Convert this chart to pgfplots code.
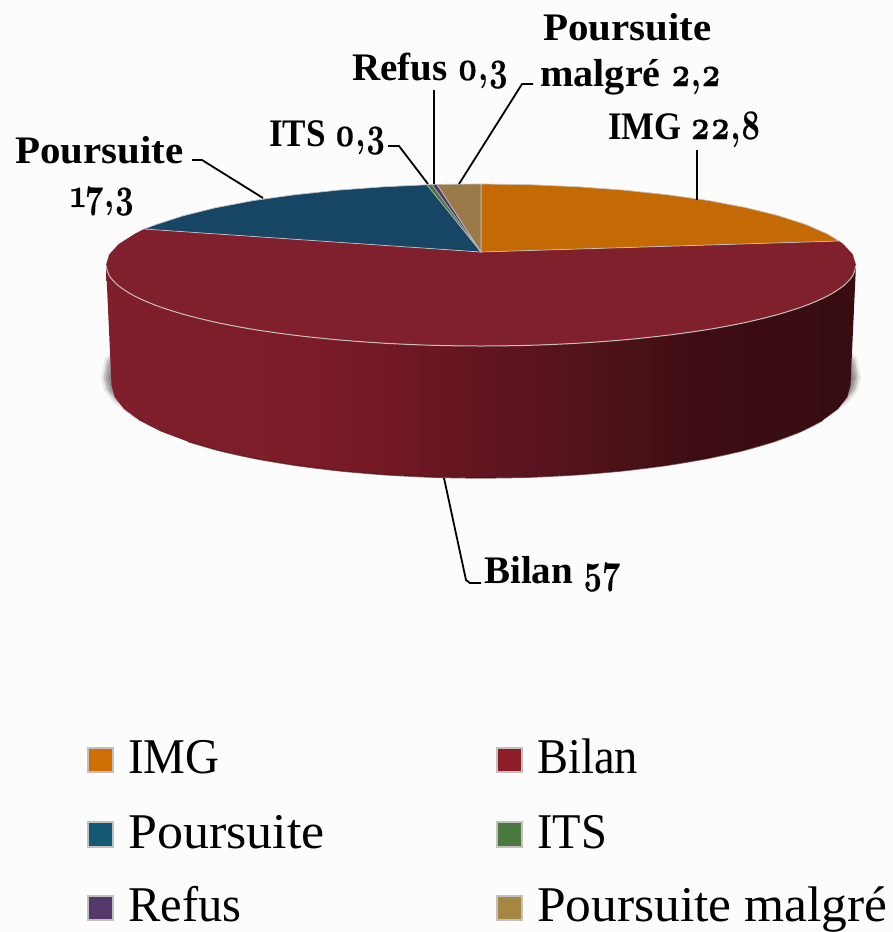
\documentclass[border=0pt]{standalone}
\usepackage{fontspec}
\setmainfont{Liberation Serif}
\newfontfamily\onum[Numbers=OldStyle,BoldFeatures={FakeBold=0.5}]{Latin Modern Roman}
\usepackage{pgfplots}
\pgfplotsset{compat=1.18}
\definecolor{bgc}{HTML}{FCFCFC}
\definecolor{cImg}{HTML}{C46A05}
\definecolor{cBilan}{HTML}{80202C}
\definecolor{cPours}{HTML}{164663}
\definecolor{cIts}{HTML}{4A7A3F}
\definecolor{cRefus}{HTML}{55396B}
\definecolor{cMalgre}{HTML}{9B7A4A}
\definecolor{rim}{HTML}{C4C0C0}
\definecolor{wa}{RGB}{127,31,43}
\definecolor{wb}{RGB}{124,28,40}
\definecolor{wc}{RGB}{111,24,35}
\definecolor{wd}{RGB}{98,21,32}
\definecolor{we}{RGB}{79,18,25}
\definecolor{wf}{RGB}{61,13,19}
\definecolor{wg}{RGB}{55,13,18}
\pgfdeclarehorizontalshading{wallshade}{100bp}{
  color(0bp)=(wa); color(25bp)=(wa); color(38bp)=(wb); color(44.6bp)=(wc);
  color(50bp)=(wd); color(58bp)=(we); color(64.6bp)=(wf); color(75bp)=(wg); color(100bp)=(wg)}
% old-style figures of the data labels
\newcommand{\dg}[1]{\scalebox{0.77}[1]{\onum\fontsize{42}{44}\selectfont\bfseries #1}}
% x, baseline, x scale of the letters, letters, figures
\newcommand{\lab}[5]{\node[anchor=base west, inner sep=0pt, font=\fontsize{39}{42}\selectfont\bfseries] at (axis cs:#1,#2) {\scalebox{#3}[1]{#4}\dg{#5}};}
\newcommand{\leg}[4]{\node[anchor=base west, inner sep=0pt, font=\fontsize{50}{54}\selectfont] at (axis cs:#1,#2) {\scalebox{#3}[1]{#4}};}
\begin{document}
\begin{tikzpicture}
\begin{axis}[
  scale only axis, width=893pt, height=932pt,
  xmin=0, xmax=893, ymin=0, ymax=932, y dir=reverse,
  hide axis,
]
% background
\addplot[fill=bgc, draw=none] coordinates {(0,0) (893,0) (893,932) (0,932)} --cycle;

% soft shadow, left then right
\addplot[fill=black, fill opacity=0.08, draw=none] coordinates {(115,348) (105,358) (101,378) (104,390) (114,403) (130,415) (154,426) (200,420) (130,380)} --cycle;
\addplot[fill=black, fill opacity=0.16, draw=none] coordinates {(115,352) (107,360) (103.5,378) (106.7,390) (116.4,402) (132.2,413.6) (154,424.5) (200,420) (130,380)} --cycle;
\addplot[fill=black, fill opacity=0.16, draw=none] coordinates {(115,356) (108.5,364) (106,378) (109.2,390) (118.8,402) (134.5,413.6) (156,424.5) (200,420) (130,380)} --cycle;
\addplot[fill=black, fill opacity=0.16, draw=none] coordinates {(115,360) (111,368) (108.5,378) (111.6,390) (121.2,402) (136.8,413.6) (158,424.5) (200,420) (130,380)} --cycle;
\addplot[fill=black, fill opacity=0.08, draw=none] coordinates {(847,348) (857,358) (861,378) (858,390) (848,403) (832,415) (808,426) (762,420) (832,380)} --cycle;
\addplot[fill=black, fill opacity=0.16, draw=none] coordinates {(847,352) (855,360) (858.5,378) (855.3,390) (845.6,402) (829.8,413.6) (808,424.5) (762,420) (832,380)} --cycle;
\addplot[fill=black, fill opacity=0.16, draw=none] coordinates {(847,356) (853.5,364) (856,378) (852.8,390) (843.2,402) (827.5,413.6) (806,424.5) (762,420) (832,380)} --cycle;
\addplot[fill=black, fill opacity=0.16, draw=none] coordinates {(847,360) (851,368) (853.5,378) (850.4,390) (840.8,402) (825.2,413.6) (804,424.5) (762,420) (832,380)} --cycle;

% wall of the cylinder
\addplot[shading=wallshade, draw=none] coordinates {
  (106,265) (109.2,275.6) (118.8,286) (134.5,296) (156.2,305.5) (183.5,314.3) (215.8,322.3)
  (252.7,329.3) (293.5,335.1) (337.5,339.8) (383.9,343.2) (432.1,345.3) (481,346)
  (529.9,345.3) (578.1,343.2) (624.5,339.8) (668.5,335.1) (709.3,329.3) (746.2,322.3)
  (778.5,314.3) (805.8,305.5) (827.5,296) (843.2,286) (852.8,275.6) (856,265)
  (850.5,385) (847.3,397.1) (837.9,409.1) (822.4,420.6) (801,431.5) (774.1,441.6) (742.3,450.8)
  (705.9,458.8) (665.8,465.5) (622.4,470.9) (576.6,474.8) (529.2,477.2) (481,478)
  (432.8,477.2) (385.4,474.8) (339.6,470.9) (296.2,465.5) (256.1,458.8) (219.7,450.8)
  (187.9,441.6) (161,431.5) (139.6,420.6) (124.1,409.1) (114.7,397.1) (111.5,385)
} --cycle;
% dark lower rim
\addplot[draw=black!75!red, opacity=0.6, line width=1.2pt, smooth] coordinates {
  (822.4,420.6) (801,431.5) (774.1,441.6) (742.3,450.8) (705.9,458.8) (665.8,465.5) (622.4,470.9)
  (576.6,474.8) (529.2,477.2) (481,478) (432.8,477.2) (385.4,474.8) (339.6,470.9) (296.2,465.5)
  (256.1,458.8) (219.7,450.8) (187.9,441.6)};

% top face
\addplot[fill=cBilan, draw=none] coordinates {
  (481,252) (839,241) (843.2,244) (852.8,254.4) (856,265) (852.8,275.6) (843.2,286) (827.5,296)
  (805.8,305.5) (778.5,314.3) (746.2,322.3) (709.3,329.3) (668.5,335.1) (624.5,339.8) (578.1,343.2)
  (529.9,345.3) (481,346) (432.1,345.3) (383.9,343.2) (337.5,339.8) (293.5,335.1) (252.7,329.3)
  (215.8,322.3) (183.5,314.3) (156.2,305.5) (134.5,296) (118.8,286) (109.2,275.6) (106,265)
  (109.2,254.4) (118.8,244) (134.5,234) (144,229)
} --cycle;
\addplot[fill=cImg, draw=rim, line width=0.7pt] coordinates {
  (481,252) (481,184) (529.9,184.7) (578.1,186.8) (624.5,190.2) (668.5,194.9) (709.3,200.7)
  (746.2,207.7) (778.5,215.7) (805.8,224.5) (827.5,234) (839,241)
} --cycle;
\addplot[fill=cPours, draw=rim, line width=0.7pt] coordinates {
  (481,252) (144,229) (156.2,224.5) (183.5,215.7) (215.8,207.7) (252.7,200.7) (293.5,194.9)
  (337.5,190.2) (383.9,186.8) (427,184.8)
} --cycle;
\addplot[fill=cIts, draw=rim, line width=0.4pt] coordinates {(481,252) (427,184.8) (432,184.6)} --cycle;
\addplot[fill=cRefus, draw=rim, line width=0.4pt] coordinates {(481,252) (432,184.6) (437,184.4)} --cycle;
\addplot[fill=cMalgre, draw=rim, line width=0.7pt] coordinates {(481,252) (437,184.4) (481,184)} --cycle;
% light edge of the front of the top face
\addplot[draw=rim, line width=1pt, smooth] coordinates {
  (106,265) (109.2,275.6) (118.8,286) (134.5,296) (156.2,305.5) (183.5,314.3) (215.8,322.3)
  (252.7,329.3) (293.5,335.1) (337.5,339.8) (383.9,343.2) (432.1,345.3) (481,346)
  (529.9,345.3) (578.1,343.2) (624.5,339.8) (668.5,335.1) (709.3,329.3) (746.2,322.3)
  (778.5,314.3) (805.8,305.5) (827.5,296) (843.2,286) (852.8,275.6) (856,265)};

% leader lines
\addplot[black, line width=1.8pt] coordinates {(192,160) (202,160) (263,198)};
\addplot[black, line width=1.8pt] coordinates {(388,146) (399,146) (428,184)};
\addplot[black, line width=1.8pt] coordinates {(434,90) (434,184)};
\addplot[black, line width=1.8pt] coordinates {(533,84) (522,84) (459,184)};
\addplot[black, line width=1.8pt] coordinates {(697,150) (697,200)};
\addplot[black, line width=1.8pt] coordinates {(444,478) (466,580) (470,583) (481,583)};

% data labels
\lab{15}{163}{1.05}{Poursuite}{}
\lab{70}{207}{1}{}{17,3}
\lab{269}{146}{0.9}{ITS }{0,3}
\lab{352}{80}{1}{Refus }{0,3}
\lab{543}{40}{1.05}{Poursuite}{}
\lab{540}{86}{1.03}{malgré }{2,2}
\lab{608}{139}{0.89}{IMG }{22,8}
\lab{484}{583}{1}{Bilan }{57}

% legend
\addplot[fill=cImg!80!orange, draw=rim, line width=1.6pt] coordinates {(88,748) (113,748) (113,772) (88,772)} --cycle;
\addplot[fill=cBilan!90!red, draw=rim, line width=1.6pt] coordinates {(497,748) (522,748) (522,772) (497,772)} --cycle;
\addplot[fill=cPours!90!cyan, draw=rim, line width=1.6pt] coordinates {(88,822) (113,822) (113,847) (88,847)} --cycle;
\addplot[fill=cIts, draw=rim, line width=1.6pt] coordinates {(497,822) (522,822) (522,847) (497,847)} --cycle;
\addplot[fill=cRefus, draw=rim, line width=1.6pt] coordinates {(88,896) (113,896) (113,920) (88,920)} --cycle;
\addplot[fill=cMalgre!90!yellow, draw=rim, line width=1.6pt] coordinates {(497,896) (522,896) (522,920) (497,920)} --cycle;
\leg{128}{773}{0.94}{IMG}
\leg{537}{773}{0.93}{Bilan}
\leg{128}{848}{1.04}{Poursuite}
\leg{537}{848}{0.93}{ITS}
\leg{128}{921}{0.97}{Refus}
\leg{537}{921}{1.03}{Poursuite malgré}
\end{axis}
\end{tikzpicture}
\end{document}
